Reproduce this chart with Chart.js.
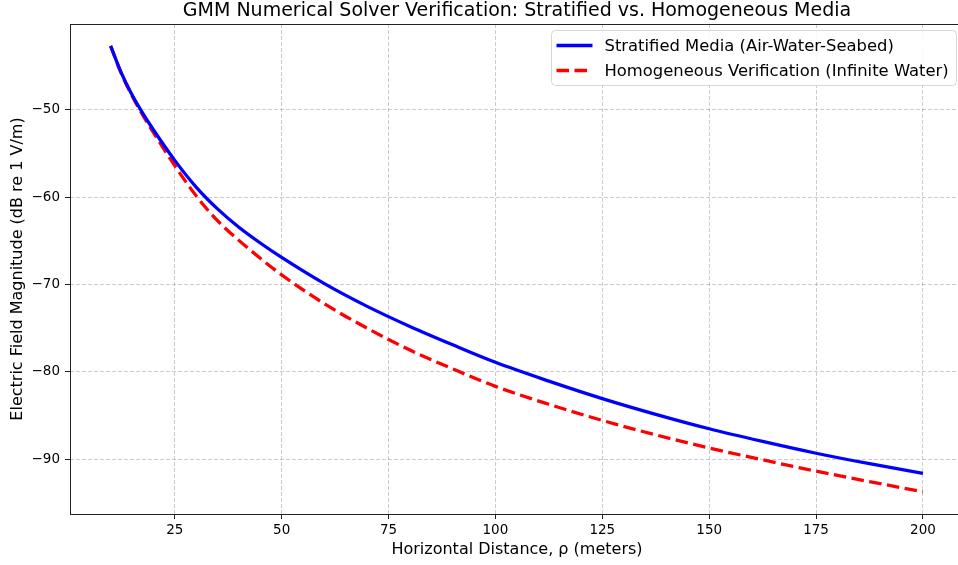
<!DOCTYPE html>
<html>
<head>
<meta charset="utf-8">
<script src="https://cdn.jsdelivr.net/npm/chart.js@4.4.1/dist/chart.umd.min.js"></script>
<style>
  html, body { margin: 0; padding: 0; background: #fff; overflow: hidden; }
  #wrap { width: 958px; height: 565px; overflow: hidden; }
  canvas { display: block; }
</style>
</head>
<body>
<div id="wrap"><canvas id="chart" width="966" height="565"></canvas></div>
<script>
// values
const distance = [10, 12.5, 15, 17.5, 20, 25, 30, 35, 40, 45, 50, 60, 70, 80, 90, 100, 112.5, 125, 137.5, 150, 162.5, 175, 187.5, 200];
const stratified = [-42.7, -45.8, -48.3, -50.4, -52.3, -55.8, -58.85, -61.35, -63.45, -65.25, -66.9, -69.9, -72.5, -74.8, -76.9, -78.9, -81.05, -83.05, -84.85, -86.5, -87.95, -89.3, -90.5, -91.6];
const homogeneous = [-42.7, -45.85, -48.4, -50.6, -52.6, -56.4, -59.85, -62.7, -64.95, -67.0, -68.9, -72.2, -75.0, -77.5, -79.65, -81.65, -83.7, -85.55, -87.2, -88.7, -90.05, -91.35, -92.55, -93.7];
const xTicks = [25, 50, 75, 100, 125, 150, 175, 200];
const yTicks = [-90, -80, -70, -60, -50];

const FONT = 'DejaVu Sans';
Chart.defaults.font.family = FONT;
Chart.defaults.color = '#000';

function toPoints(ys) {
    return distance.map((x, i) => ({ x: x, y: ys[i] }));
}

// axes frame + matplotlib style legend box
const framePlugin = {
    id: 'frame',
    afterDraw(chart) {
        const ctx = chart.ctx;
        const a = chart.chartArea;
        ctx.save();
        ctx.strokeStyle = '#222';
        ctx.lineWidth = 1;
        ctx.strokeRect(a.left + 0.5, a.top + 0.5, a.right - a.left, a.bottom - a.top);

        // legend
        const sets = chart.data.datasets;
        const boxW = 405, rowH = 25;
        const boxH = sets.length * rowH + 5;
        const bx = a.right - 8 - boxW + 0.5;
        const by = a.top + 6 + 0.5;
        ctx.beginPath();
        ctx.roundRect(bx, by, boxW, boxH, 4);
        ctx.fillStyle = 'rgba(255,255,255,0.85)';
        ctx.fill();
        ctx.strokeStyle = '#d6d6d6';
        ctx.lineWidth = 1;
        ctx.stroke();

        ctx.font = '16.4px "' + FONT + '"';
        ctx.textBaseline = 'middle';
        ctx.textAlign = 'left';
        sets.forEach((ds, i) => {
            const cy = by + 15 + i * rowH;
            ctx.beginPath();
            ctx.setLineDash(ds.borderDash || []);
            ctx.strokeStyle = ds.borderColor;
            ctx.lineWidth = ds.borderWidth;
            ctx.moveTo(bx + 5, cy);
            ctx.lineTo(bx + 41, cy);
            ctx.stroke();
            ctx.setLineDash([]);
            ctx.fillStyle = '#000';
            ctx.fillText(ds.label, bx + 53, cy + 1);
        });
        ctx.restore();
    }
};

const gridStyle = {
    color: 'rgba(0,0,0,0.2)',
    lineWidth: 1,
    tickLength: 5,
    tickColor: '#222',
    tickWidth: 1,
    tickBorderDash: []
};
const borderStyle = { display: false, dash: [4, 2] };

new Chart(document.getElementById('chart'), {
    type: 'line',
    data: {
        datasets: [
            {
                label: 'Stratified Media (Air-Water-Seabed)',
                data: toPoints(stratified),
                borderColor: '#0000ff',
                borderWidth: 3.3,
                pointRadius: 0,
                cubicInterpolationMode: 'monotone',
                fill: false
            },
            {
                label: 'Homogeneous Verification (Infinite Water)',
                data: toPoints(homogeneous),
                borderColor: '#ff0000',
                borderWidth: 3.3,
                borderDash: [12.5, 5.5],
                pointRadius: 0,
                cubicInterpolationMode: 'monotone',
                fill: false
            }
        ]
    },
    options: {
        responsive: false,
        animation: false,
        devicePixelRatio: 1,
        layout: { padding: { top: 0, right: 2, bottom: 0, left: 0 } },
        plugins: {
            legend: { display: false },
            tooltip: { enabled: false },
            title: {
                display: true,
                fullSize: false,
                text: 'GMM Numerical Solver Verification: Stratified vs. Homogeneous Media',
                font: { size: 19, weight: 'normal' },
                color: '#000',
                padding: { top: 0, bottom: 1.2 }
            }
        },
        scales: {
            x: {
                type: 'linear',
                min: 0.5,
                max: 209.6,
                afterBuildTicks: (scale) => { scale.ticks = xTicks.map(v => ({ value: v })); },
                afterFit: (scale) => { scale.height = 51; },
                grid: gridStyle,
                border: borderStyle,
                ticks: {
                    font: { size: 13.5 },
                    color: '#000',
                    padding: 3,
                    maxRotation: 0,
                    callback: (v) => String(v)
                },
                title: {
                    display: true,
                    text: 'Horizontal Distance, ρ (meters)',
                    font: { size: 16 },
                    color: '#000',
                    padding: { top: 0, bottom: 6 }
                }
            },
            y: {
                type: 'linear',
                min: -96.25,
                max: -40.2,
                afterBuildTicks: (scale) => { scale.ticks = yTicks.map(v => ({ value: v })); },
                afterFit: (scale) => { scale.width = 70; },
                grid: gridStyle,
                border: borderStyle,
                ticks: {
                    font: { size: 13.5 },
                    color: '#000',
                    padding: 5,
                    callback: (v) => (v < 0 ? '\u2212' : '') + Math.abs(v)
                },
                title: {
                    display: true,
                    text: 'Electric Field Magnitude (dB re 1 V/m)',
                    font: { size: 16 },
                    color: '#000',
                    padding: { top: 8, bottom: 0 }
                }
            }
        }
    },
    plugins: [framePlugin]
});
</script>
</body>
</html>
